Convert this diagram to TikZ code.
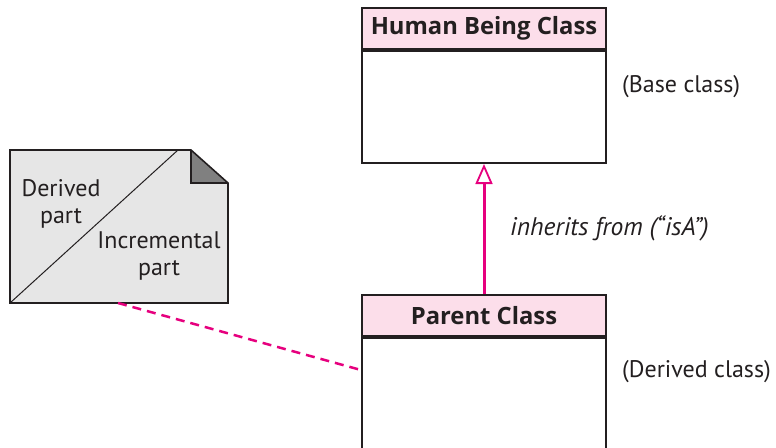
\documentclass[tikz,border=0pt]{standalone}
\usepackage{fontspec}
\setmainfont{PT Sans}
\newfontfamily\hdrfont{Open Sans}
\usetikzlibrary{arrows.meta}
\definecolor{hdr}{RGB}{252,222,234}
\definecolor{mag}{RGB}{230,0,126}
\definecolor{ink}{RGB}{35,31,32}
\definecolor{notegray}{RGB}{230,230,230}
\definecolor{foldgray}{RGB}{128,128,128}
\tikzset{
  x=1pt, y=1pt,
  hdrbox/.style={draw=ink, line width=2pt, fill=hdr, minimum width=244pt, minimum height=41pt, inner sep=0pt, font=\hdrfont\fontsize{23.8}{27}\selectfont\bfseries, text=ink},
  bodybox/.style={draw=ink, line width=2pt, fill=white, minimum width=244pt, inner sep=0pt},
  lbl/.style={font=\fontsize{24}{28}\selectfont, text=ink, inner sep=0pt},
  notetxt/.style={font=\fontsize{24}{27}\selectfont, text=ink, inner sep=0pt, align=center},
  inherit/.style={draw=mag, line width=3pt, -{Triangle[open, length=20pt, width=17pt, line width=1.8pt]}},
  assoc/.style={draw=mag, line width=2.5pt, dash pattern=on 9pt off 6pt},
}
\begin{document}
\begin{tikzpicture}
\useasboundingbox (0,0) rectangle (776,-447);
% base class
\node[hdrbox, anchor=north west] (hhead) at (361,-7) {Human Being Class};
\node[bodybox, minimum height=112pt, anchor=north] (hbody) at (hhead.south) {};
% derived class
\node[hdrbox, anchor=north west] (phead) at (361,-294) {Parent Class};
\node[bodybox, minimum height=111pt, anchor=north] (pbody) at (phead.south) {};
% labels
\node[lbl, anchor=west] (baselbl) at (622,-87) {(Base class)};
\node[lbl, anchor=west] (derlbl) at (622,-372) {(Derived class)};
\node[lbl, anchor=west, font=\fontsize{25.5}{30}\selectfont\itshape] (inhlbl) at (510,-228) {inherits from (“isA”)};
% note
\fill[notegray] (10,-150) -- (191,-150) -- (228,-183) -- (228,-303) -- (10,-303) -- cycle;
\fill[foldgray] (191,-150) -- (191,-183) -- (228,-183) -- cycle;
\draw[ink, line width=1.6pt, line join=miter] (10,-150) -- (191,-150) -- (228,-183) -- (228,-303) -- (10,-303) -- cycle;
\draw[ink, line width=1.2pt] (191,-150) -- (191,-183) -- (228,-183);
\draw[ink, line width=1pt] (10,-303) -- (178,-150);
\node[notetxt] (derpart) at (61,-204) {Derived\\part};
\node[notetxt] (incpart) at (159,-256) {Incremental\\part};
\coordinate (notebot) at (118,-303);
% connectors
\draw[inherit] (phead.north) -- (hbody.south);
\draw[assoc] (notebot) -- (pbody.west |- 0,-370);
\end{tikzpicture}
\end{document}
